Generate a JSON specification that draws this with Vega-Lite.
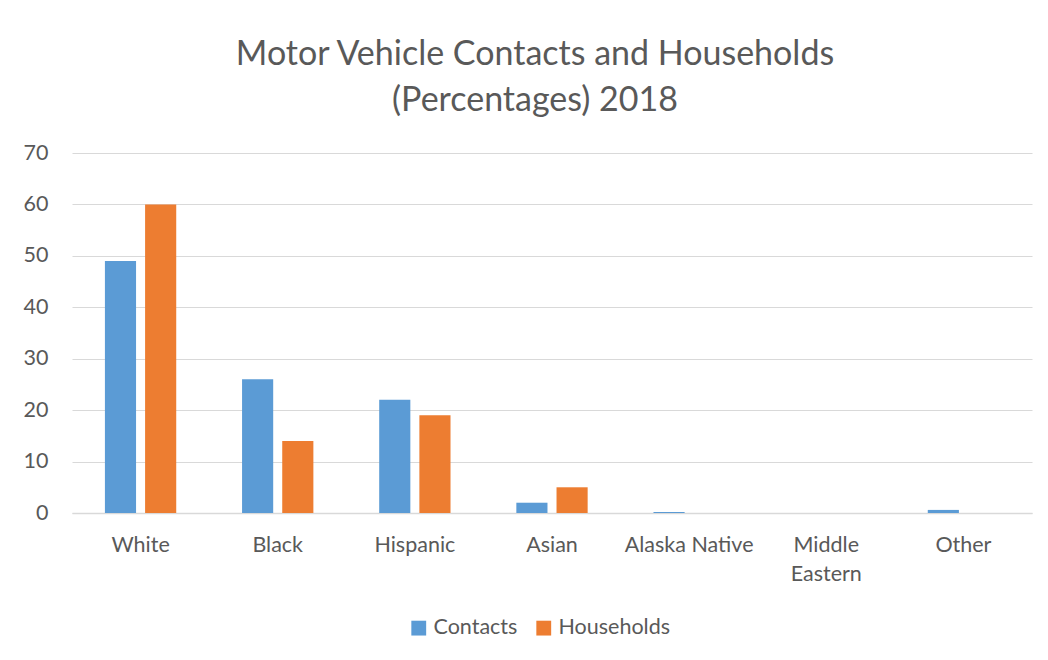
{
  "$schema": "https://vega.github.io/schema/vega-lite/v6.json",
  "autosize": {"type": "none"},
  "width": 960,
  "height": 360,
  "padding": {"left": 72, "top": 153, "right": 16, "bottom": 147},
  "background": "white",
  "title": {
    "text": ["Motor Vehicle Contacts and Households", "(Percentages) 2018"],
    "font": "Lato",
    "fontSize": 34,
    "fontWeight": "normal",
    "color": "#595959",
    "lineHeight": 46,
    "anchor": "middle",
    "dx": -17,
    "offset": 24
  },
  "data": {
    "values": [
      {"group": "White", "series": "Contacts", "value": 49},
      {"group": "White", "series": "Households", "value": 60},
      {"group": "Black", "series": "Contacts", "value": 26},
      {"group": "Black", "series": "Households", "value": 14},
      {"group": "Hispanic", "series": "Contacts", "value": 22},
      {"group": "Hispanic", "series": "Households", "value": 19},
      {"group": "Asian", "series": "Contacts", "value": 2},
      {"group": "Asian", "series": "Households", "value": 5},
      {"group": "Alaska Native", "series": "Contacts", "value": 0.2},
      {"group": "Alaska Native", "series": "Households", "value": 0},
      {"group": "Middle Eastern", "series": "Contacts", "value": 0},
      {"group": "Middle Eastern", "series": "Households", "value": 0},
      {"group": "Other", "series": "Contacts", "value": 0.6},
      {"group": "Other", "series": "Households", "value": 0}
    ]
  },
  "mark": {"type": "bar"},
  "encoding": {
    "x": {
      "field": "group",
      "type": "nominal",
      "sort": null,
      "title": null,
      "scale": {"paddingInner": 0.48, "paddingOuter": 0.24},
      "axis": {
        "labelAngle": 0,
        "ticks": false,
        "domainColor": "#d9d9d9",
        "domainWidth": 1.5,
        "labelFont": "Lato",
        "labelFontSize": 21.5,
        "labelColor": "#595959",
        "labelPadding": 21,
        "labelLineHeight": 29,
        "labelExpr": "datum.label == 'Middle Eastern' ? ['Middle', 'Eastern'] : datum.label"
      }
    },
    "xOffset": {
      "field": "series",
      "type": "nominal",
      "scale": {"paddingInner": 0.225, "paddingOuter": 0}
    },
    "y": {
      "field": "value",
      "type": "quantitative",
      "title": null,
      "scale": {"domain": [0, 70], "nice": false},
      "axis": {
        "values": [0, 10, 20, 30, 40, 50, 60, 70],
        "domain": false,
        "ticks": false,
        "gridColor": "#d9d9d9",
        "gridWidth": 1.2,
        "labelFont": "Lato",
        "labelFontSize": 21.5,
        "labelColor": "#595959",
        "labelPadding": 24
      }
    },
    "color": {
      "field": "series",
      "type": "nominal",
      "title": null,
      "scale": {"domain": ["Contacts", "Households"], "range": ["#5b9bd5", "#ed7d31"]},
      "legend": {
        "orient": "none",
        "legendX": 336,
        "legendY": 464,
        "direction": "horizontal",
        "symbolType": "square",
        "symbolSize": 220,
        "symbolStrokeWidth": 0,
        "labelFont": "Lato",
        "labelFontSize": 21.5,
        "labelColor": "#595959",
        "columnPadding": 15,
        "labelOffset": 4
      }
    }
  },
  "config": {"view": {"stroke": null}}
}
